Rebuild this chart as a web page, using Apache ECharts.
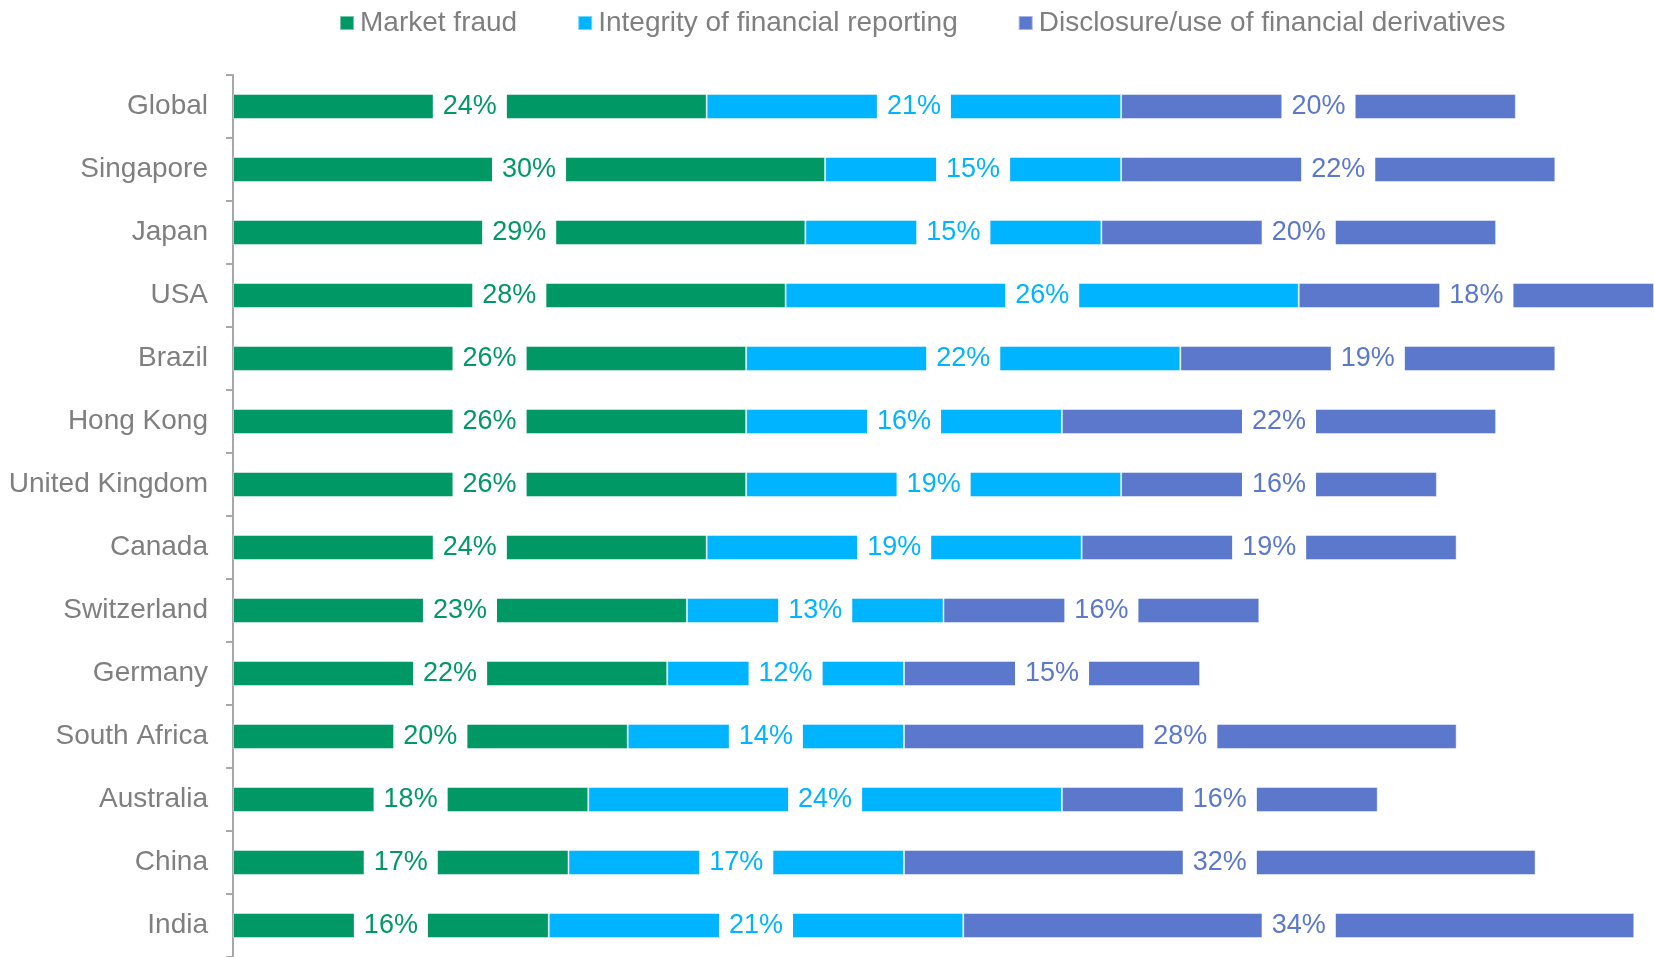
<!DOCTYPE html>
<html>
<head>
<meta charset="utf-8">
<title>Fraud and integrity concerns by market</title>
<script src="https://cdn.jsdelivr.net/npm/echarts@6/dist/echarts.min.js"></script>
<style>
  html, body { margin: 0; padding: 0; background: #ffffff; }
  #chart { width: 1654px; height: 957px; }
</style>
</head>
<body>
<div id="chart"></div>
<script>
// Markets, listed top to bottom
const countries = [
  'Global', 'Singapore', 'Japan', 'USA', 'Brazil', 'Hong Kong',
  'United Kingdom', 'Canada', 'Switzerland', 'Germany', 'South Africa',
  'Australia', 'China', 'India'
];

// Share of respondents (%) per concern
const marketFraud = [24, 30, 29, 28, 26, 26, 26, 24, 23, 22, 20, 18, 17, 16];
const reportingIntegrity = [21, 15, 15, 26, 22, 16, 19, 19, 13, 12, 14, 24, 17, 21];
const derivativesDisclosure = [20, 22, 20, 18, 19, 22, 16, 19, 16, 15, 28, 16, 32, 34];

const seriesNames = [
  'Market fraud',
  'Integrity of financial reporting',
  'Disclosure/use of financial derivatives'
];
const seriesColors = ['#009966', '#00B4FF', '#5B78CC'];
const seriesValues = [marketFraud, reportingIntegrity, derivativesDisclosure];

const FONT = '"Liberation Sans", Arial, Helvetica, sans-serif';

const chart = echarts.init(document.getElementById('chart'));

chart.setOption({
  animation: false,
  backgroundColor: '#ffffff',
  textStyle: { fontFamily: FONT },
  legend: {
    left: 334,
    top: 4,
    itemWidth: 14,
    itemHeight: 14,
    itemGap: 60,
    icon: 'rect',
    textStyle: { color: '#7f7f7f', fontSize: 28, fontFamily: FONT, padding: [0, 0, 0, 1] },
    data: seriesNames
  },
  grid: {
    left: 233,
    right: 0,
    top: 75,
    height: 884,
    containLabel: false
  },
  xAxis: {
    type: 'value',
    min: 0,
    max: 72,
    show: false
  },
  yAxis: {
    type: 'category',
    inverse: true,
    data: countries,
    axisLine: { show: true, lineStyle: { color: '#a8a8a8', width: 2 } },
    axisTick: { show: true, length: 7, lineStyle: { color: '#a8a8a8', width: 2 } },
    axisLabel: { color: '#7f7f7f', fontSize: 28, margin: 25, fontFamily: FONT },
    splitLine: { show: false }
  },
  series: seriesNames.map((name, i) => ({
    name: name,
    type: 'bar',
    stack: 'total',
    barWidth: 25,
    data: seriesValues[i],
    itemStyle: {
      color: seriesColors[i],
      borderColor: 'rgba(255,255,255,0.45)',
      borderWidth: 1
    },
    label: {
      show: true,
      position: 'inside',
      formatter: '{c}%',
      color: seriesColors[i],
      fontSize: 27,
      fontFamily: FONT,
      backgroundColor: '#ffffff',
      padding: [2, 10, 1, 10]
    }
  }))
});
</script>
</body>
</html>
